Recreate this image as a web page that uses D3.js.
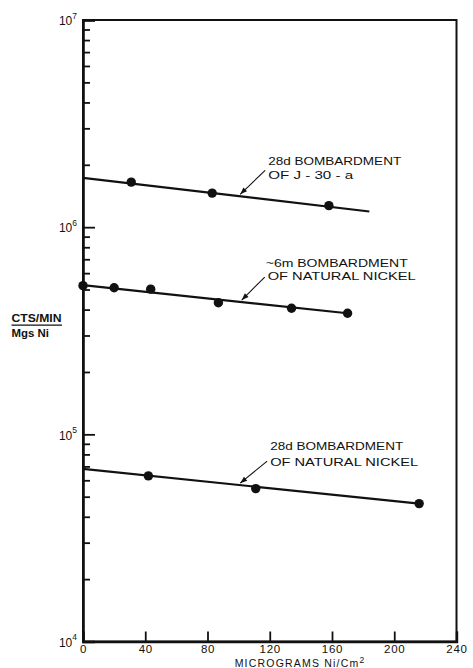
<!DOCTYPE html>
<html>
<head>
<meta charset="utf-8">
<script src="https://cdn.jsdelivr.net/npm/d3@7"></script>
<style>
  html, body { margin: 0; padding: 0; background: #fff; }
  svg { display: block; }
  text { font-family: "Liberation Sans", Arial, sans-serif; fill: #111; }
</style>
</head>
<body>
<svg id="chart" width="473" height="668"></svg>
<script>
// Activity per milligram of nickel vs. target thickness (µg Ni/cm²)

// x tick labels and y decades
const xTicks = [0, 40, 80, 120, 160, 200, 240];
const yDecades = [1e4, 1e5, 1e6, 1e7];

// 28d bombardment of J-30-a
const j30Thickness = [31, 83, 158];
const j30Counts = [1.65e6, 1.46e6, 1.27e6];
const j30Fit = [[0, 1.73e6], [184, 1.19e6]];

// ~6m bombardment of natural nickel
const nat6mThickness = [0, 20, 43.5, 87, 134, 170];
const nat6mCounts = [5.22e5, 5.1e5, 5.02e5, 4.32e5, 4.06e5, 3.84e5];
const nat6mFit = [[0, 5.25e5], [170, 3.84e5]];

// 28d bombardment of natural nickel
const nat28dThickness = [42, 111, 216];
const nat28dCounts = [6.3e4, 5.47e4, 4.63e4];
const nat28dFit = [[0, 6.81e4], [216, 4.63e4]];

const seriesLabels = [
  ["28d BOMBARDMENT", "OF J - 30 - a"],
  ["~6m BOMBARDMENT", "OF NATURAL NICKEL"],
  ["28d BOMBARDMENT", "OF NATURAL NICKEL"]
];

const svg = d3.select("#chart");

const x = d3.scaleLinear().domain([0, 240]).range([83, 456.5]);
const y = d3.scaleLog().domain([1e4, 1e7]).range([641.5, 20]);

// frame
svg.append("rect")
  .attr("x", x(0)).attr("y", y(1e7))
  .attr("width", x(240) - x(0)).attr("height", y(1e4) - y(1e7))
  .attr("fill", "none").attr("stroke", "#111").attr("stroke-width", 2);

// minor log ticks on the left axis
const minorVals = [];
[1e4, 1e5, 1e6].forEach(d => { for (let k = 2; k <= 9; k++) minorVals.push(d * k); });

svg.append("g")
  .attr("transform", `translate(${x(0)},0)`)
  .call(d3.axisLeft(y).tickValues(minorVals).tickSize(-7).tickFormat(""))
  .call(g => g.select(".domain").remove())
  .call(g => g.selectAll("line").attr("stroke", "#111").attr("stroke-width", 1.8));

// major ticks with 10^n labels
const yAxis = svg.append("g")
  .attr("transform", `translate(${x(0)},0)`)
  .call(d3.axisLeft(y).tickValues(yDecades).tickSize(-12).tickPadding(6)
    .tickFormat(d => Math.round(Math.log10(d))))
  .call(g => g.select(".domain").attr("stroke", "#111").attr("stroke-width", 2.6))
  .call(g => g.selectAll("line").attr("stroke", "#111").attr("stroke-width", 1.8));

yAxis.selectAll(".tick text").each(function (d) {
  const t = d3.select(this);
  const e = Math.round(Math.log10(d));
  t.text("").attr("font-size", 12).attr("fill", "#111").attr("dy", "0.4em");
  t.append("tspan").text("10");
  t.append("tspan").text(e).attr("font-size", 8.5).attr("dy", "-0.8em");
});

// bottom axis
svg.append("g")
  .attr("transform", `translate(0,${y(1e4)})`)
  .call(d3.axisBottom(x).tickValues(xTicks).tickSize(-10).tickPadding(3).tickFormat(d3.format("d")))
  .call(g => g.select(".domain").attr("stroke", "#111").attr("stroke-width", 2.4))
  .call(g => g.selectAll("line").attr("stroke", "#111").attr("stroke-width", 1.8))
  .call(g => g.selectAll("text").attr("font-size", 11.5).attr("letter-spacing", 0.7).attr("fill", "#111"));

// axis titles
svg.append("text")
  .attr("x", 300).attr("y", 667).attr("text-anchor", "middle")
  .attr("font-size", 10.5).attr("letter-spacing", 1.2)
  .call(t => {
    t.append("tspan").text("MICROGRAMS  Ni/Cm");
    t.append("tspan").text("2").attr("font-size", 8.5).attr("dy", "-0.5em");
  });

svg.append("text").attr("x", 11.5).attr("y", 321.5)
  .attr("font-size", 10).attr("font-weight", "bold")
  .attr("textLength", 50).attr("lengthAdjust", "spacingAndGlyphs").text("CTS/MIN");
svg.append("line").attr("x1", 11.5).attr("x2", 62).attr("y1", 325.2).attr("y2", 325.2)
  .attr("stroke", "#111").attr("stroke-width", 1.3);
svg.append("text").attr("x", 11.5).attr("y", 336.5)
  .attr("font-size", 10).attr("font-weight", "bold")
  .attr("textLength", 37.5).attr("lengthAdjust", "spacingAndGlyphs").text("Mgs Ni");

// data series; label rows: [dx, dy, width] from the arrow tail
const series = [
  { xs: j30Thickness, ys: j30Counts, fit: j30Fit, label: seriesLabels[0], tipX: 101, tail: [25, -24],
    rows: [[3, -5, 133], [3, 8.3, 85]] },
  { xs: nat6mThickness, ys: nat6mCounts, fit: nat6mFit, label: seriesLabels[1], tipX: 102, tail: [23, -23],
    rows: [[1, -10, 142], [3, 3.3, 148]] },
  { xs: nat28dThickness, ys: nat28dCounts, fit: nat28dFit, label: seriesLabels[2], tipX: 101, tail: [27, -22],
    rows: [[3, -10.7, 133], [3, 5, 148]] }
];

const line = d3.line().x(d => x(d[0])).y(d => y(d[1]));

// value on a fitted line (straight in log space)
function fitAt(fit, xv) {
  const [a, b] = fit;
  const f = (xv - a[0]) / (b[0] - a[0]);
  return Math.pow(10, Math.log10(a[1]) + f * (Math.log10(b[1]) - Math.log10(a[1])));
}

series.forEach(s => {
  svg.append("path").datum(s.fit).attr("d", line)
    .attr("fill", "none").attr("stroke", "#111").attr("stroke-width", 2.2);

  svg.append("g").selectAll("circle")
    .data(s.xs.map((v, i) => [v, s.ys[i]]))
    .join("circle")
    .attr("cx", d => x(d[0])).attr("cy", d => y(d[1]))
    .attr("r", 4.7).attr("fill", "#111");

  // pointer arrow from label to line
  const tx = x(s.tipX), ty = y(fitAt(s.fit, s.tipX)) - 2;
  const hx = tx + s.tail[0], hy = ty + s.tail[1];
  svg.append("line").attr("x1", hx).attr("y1", hy).attr("x2", tx).attr("y2", ty)
    .attr("stroke", "#111").attr("stroke-width", 1.1);
  const ang = Math.atan2(ty - hy, tx - hx);
  const L = 7, W = 2.6;
  const bx = tx - L * Math.cos(ang), by = ty - L * Math.sin(ang);
  svg.append("path")
    .attr("d", `M${tx},${ty}L${bx + W * Math.sin(ang)},${by - W * Math.cos(ang)}L${bx - W * Math.sin(ang)},${by + W * Math.cos(ang)}Z`)
    .attr("fill", "#111");

  s.label.forEach((txt, i) => {
    svg.append("text")
      .attr("x", hx + s.rows[i][0]).attr("y", hy + s.rows[i][1])
      .attr("font-size", 11.5)
      .attr("textLength", s.rows[i][2]).attr("lengthAdjust", "spacingAndGlyphs")
      .text(txt);
  });
});
</script>
</body>
</html>
